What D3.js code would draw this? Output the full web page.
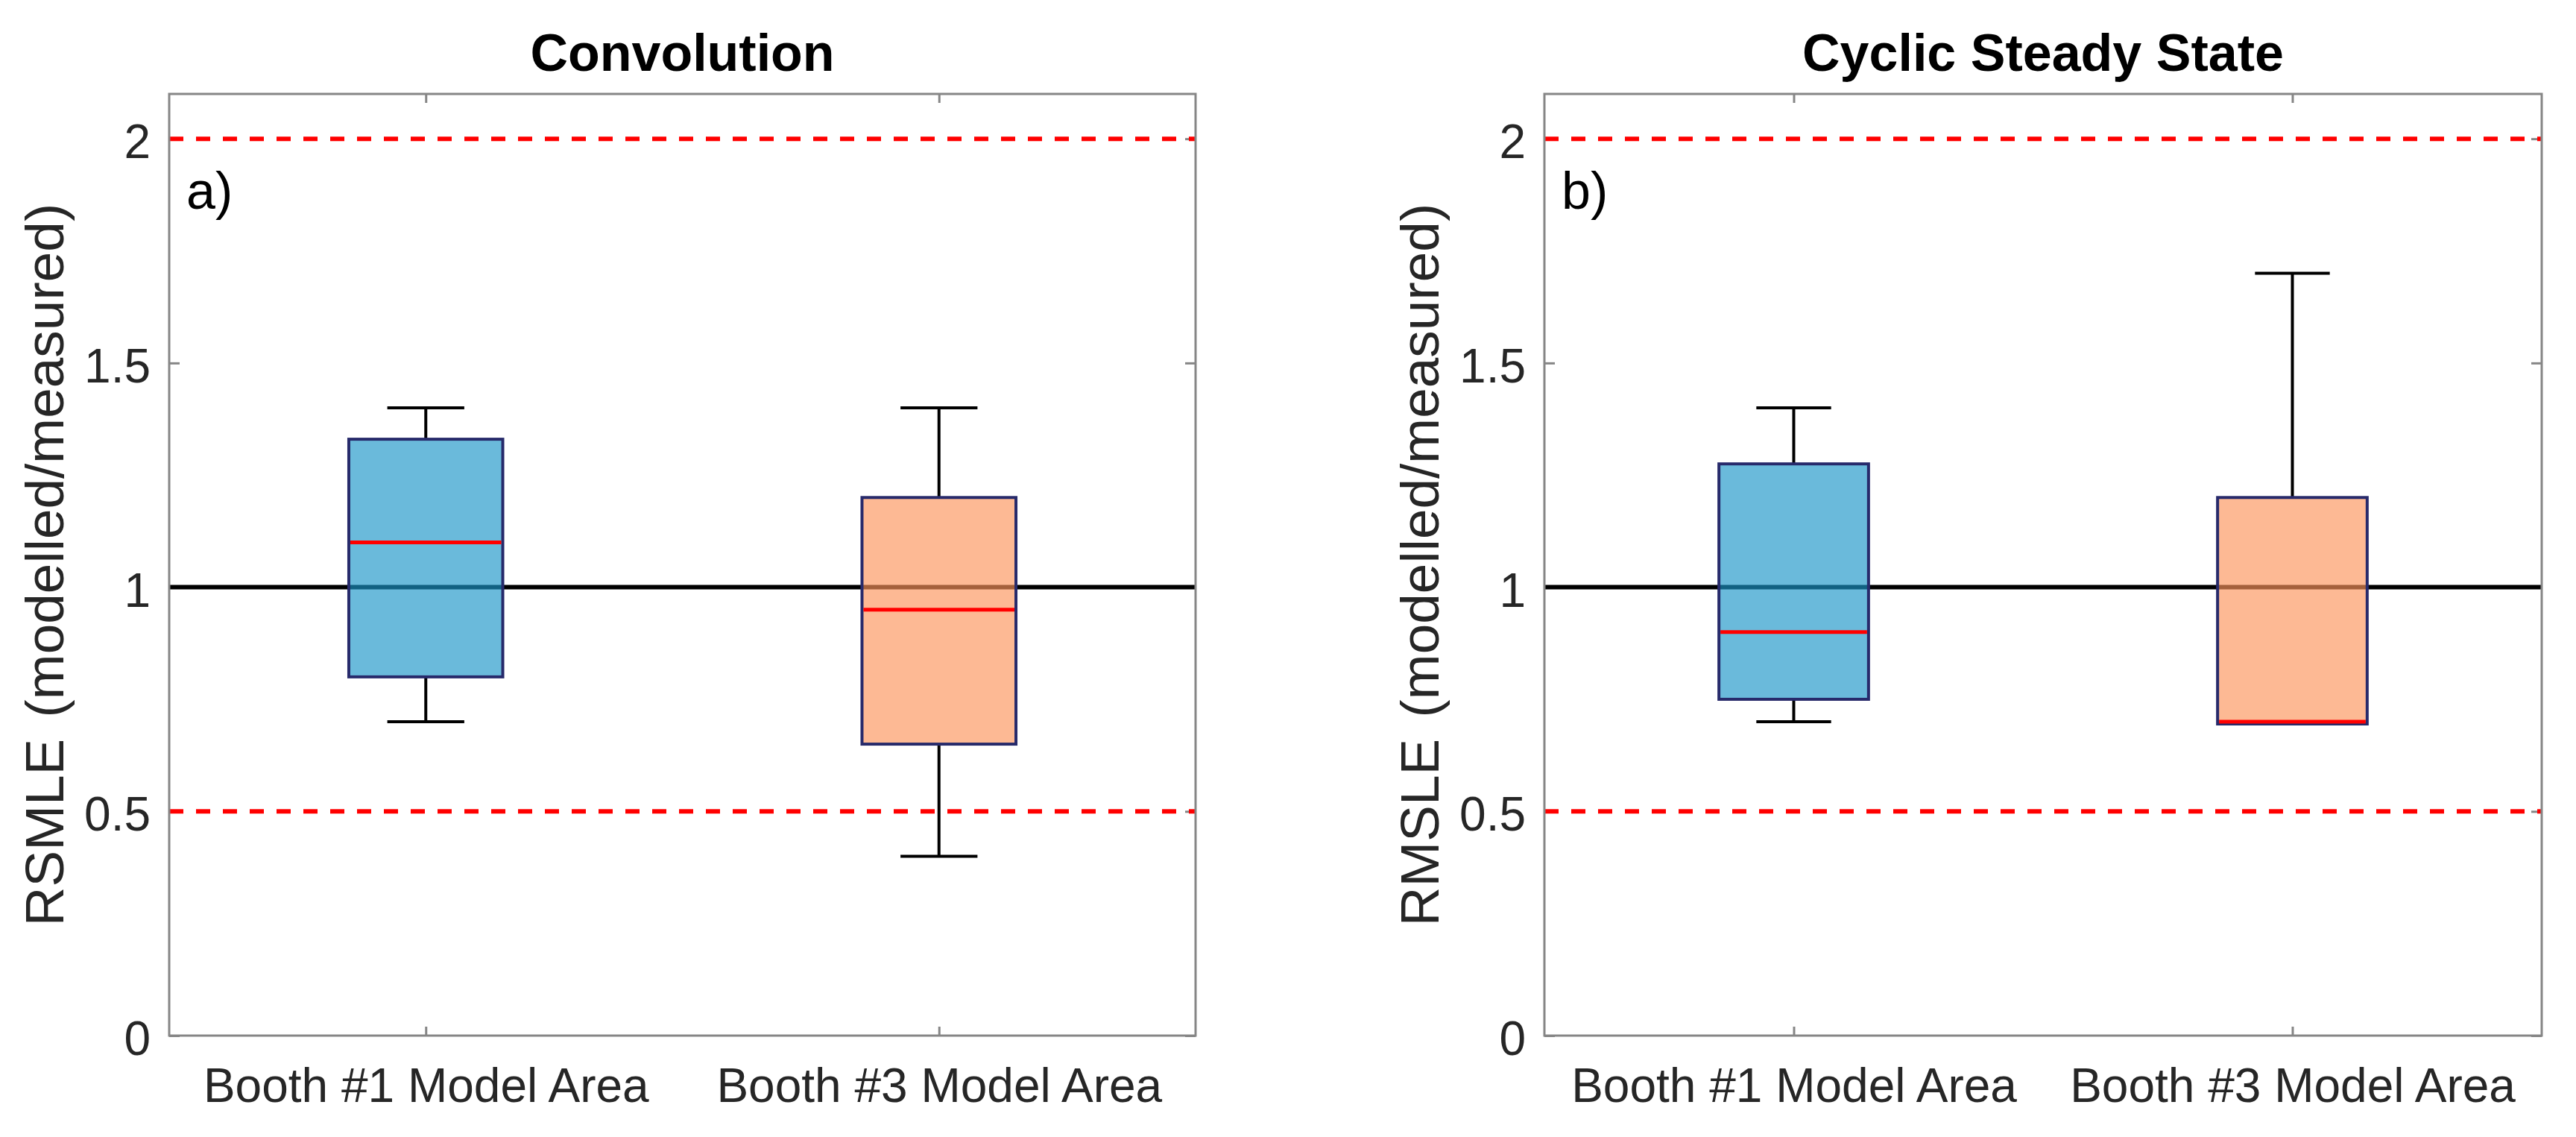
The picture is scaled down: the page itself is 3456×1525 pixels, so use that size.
<!DOCTYPE html>
<meta charset="utf-8">
<style>
  body { margin: 0; background: #fff; }
  text { font-family: "Liberation Sans", Arial, Helvetica, sans-serif; }
</style>
<script src="https://d3js.org/d3.v7.min.js"></script>

<div id="viz"></div>

<script>

// categories and labels
var groups = ["Booth #1 Model Area", "Booth #3 Model Area"];
var panelTitles = ["Convolution", "Cyclic Steady State"];
var yTitles = ["RSMLE (modelled/measured)", "RMSLE (modelled/measured)"];
var panelTags = ["a)", "b)"];
var yTicks = [0, 0.5, 1, 1.5, 2];

// box statistics (one value per group)
var convLow  = [0.7, 0.4];
var convQ1   = [0.8, 0.65];
var convMed  = [1.1, 0.95];
var convQ3   = [1.33, 1.2];
var convHigh = [1.4, 1.4];

var cssLow  = [0.7, 0.695];
var cssQ1   = [0.75, 0.695];
var cssMed  = [0.9, 0.7];
var cssQ3   = [1.275, 1.2];
var cssHigh = [1.4, 1.7];

// reference lines
var limitLines = [0.5, 2];
var refLine = 1;

var boxFill = ["#1a95c8", "#fc945b"];

var W = 3456, H = 1525;

var svg = d3.select("#viz")
  .append("svg")
    .attr("width", W)
    .attr("height", H);

svg.append("rect")
  .attr("width", W)
  .attr("height", H)
  .style("fill", "#fff");

var panelLeft = [227, 2072],
    panelWidth = [1377, 1338],
    marginTop = 126,
    height = 1389 - 126;

function stats(low, q1, med, q3, high) {
  return groups.map(function (g, i) {
    return {name: g, pos: i + 1, low: low[i], q1: q1[i], med: med[i], q3: q3[i], high: high[i], fill: boxFill[i]};
  });
}

var panelData = [
  stats(convLow, convQ1, convMed, convQ3, convHigh),
  stats(cssLow, cssQ1, cssMed, cssQ3, cssHigh)
];

panelData.forEach(function (data, p) {
  var width = panelWidth[p];
  var g = svg.append("g")
    .attr("transform", "translate(" + panelLeft[p] + "," + marginTop + ")");

  var x = d3.scaleLinear()
    .domain([0.5, 2.5])
    .range([0, width]);

  var y = d3.scaleLinear()
    .domain([0, 2.1])
    .range([height, 0]);

  // axes, ticks pointing inwards like matlab
  var yAxis = g.append("g")
    .call(d3.axisLeft(y).tickValues(yTicks).tickFormat(function (d) { return String(d); })
      .tickSizeInner(-14).tickSizeOuter(0).tickPadding(25));
  var yAxisR = g.append("g")
    .attr("transform", "translate(" + width + ",0)")
    .call(d3.axisRight(y).tickValues(yTicks).tickFormat("")
      .tickSizeInner(-14).tickSizeOuter(0));
  var xAxis = g.append("g")
    .attr("transform", "translate(0," + height + ")")
    .call(d3.axisBottom(x).tickValues([1, 2]).tickFormat(function (d) { return groups[d - 1]; })
      .tickSizeInner(-12).tickSizeOuter(0).tickPadding(44));
  var xAxisT = g.append("g")
    .call(d3.axisTop(x).tickValues([1, 2]).tickFormat("")
      .tickSizeInner(-12).tickSizeOuter(0));

  g.selectAll(".domain").remove();
  g.selectAll(".tick line")
    .attr("stroke", "#868686")
    .attr("stroke-width", 3);
  g.selectAll(".tick text")
    .attr("fill", "#262626")
    .style("font-size", "64px");
  yAxis.selectAll(".tick text").attr("dy", "0.4em");

  // limit lines
  g.selectAll(".limit")
    .data(limitLines)
    .enter()
    .append("line")
      .attr("x1", 0)
      .attr("x2", width)
      .attr("y1", function (d) { return y(d); })
      .attr("y2", function (d) { return y(d); })
      .attr("stroke", "#ff0000")
      .attr("stroke-width", 6)
      .attr("stroke-dasharray", "19,17");

  g.append("line")
    .attr("x1", 0)
    .attr("x2", width)
    .attr("y1", y(refLine))
    .attr("y2", y(refLine))
    .attr("stroke", "#000")
    .attr("stroke-width", 6);

  var boxW = 0.3, capW = 0.15;

  var box = g.selectAll(".box")
    .data(data)
    .enter()
    .append("g");

  // whiskers
  box.append("line")
    .attr("x1", function (d) { return x(d.pos); })
    .attr("x2", function (d) { return x(d.pos); })
    .attr("y1", function (d) { return y(d.q3); })
    .attr("y2", function (d) { return y(d.high); })
    .attr("stroke", "#000").attr("stroke-width", 4);
  box.append("line")
    .attr("x1", function (d) { return x(d.pos); })
    .attr("x2", function (d) { return x(d.pos); })
    .attr("y1", function (d) { return y(d.q1); })
    .attr("y2", function (d) { return y(d.low); })
    .attr("stroke", "#000").attr("stroke-width", 4);
  box.append("line")
    .attr("x1", function (d) { return x(d.pos - capW / 2); })
    .attr("x2", function (d) { return x(d.pos + capW / 2); })
    .attr("y1", function (d) { return y(d.high); })
    .attr("y2", function (d) { return y(d.high); })
    .attr("stroke", "#000").attr("stroke-width", 4);
  box.append("line")
    .attr("x1", function (d) { return x(d.pos - capW / 2); })
    .attr("x2", function (d) { return x(d.pos + capW / 2); })
    .attr("y1", function (d) { return y(d.low); })
    .attr("y2", function (d) { return y(d.low); })
    .attr("stroke", "#000").attr("stroke-width", 4);

  // boxes, semi transparent so the reference line shows through
  box.append("rect")
    .attr("x", function (d) { return x(d.pos - boxW / 2); })
    .attr("width", function (d) { return x(d.pos + boxW / 2) - x(d.pos - boxW / 2); })
    .attr("y", function (d) { return y(d.q3); })
    .attr("height", function (d) { return y(d.q1) - y(d.q3); })
    .attr("fill", function (d) { return d.fill; })
    .attr("fill-opacity", 0.65);
  box.append("rect")
    .attr("x", function (d) { return x(d.pos - boxW / 2); })
    .attr("width", function (d) { return x(d.pos + boxW / 2) - x(d.pos - boxW / 2); })
    .attr("y", function (d) { return y(d.q3); })
    .attr("height", function (d) { return y(d.q1) - y(d.q3); })
    .attr("fill", "none")
    .attr("stroke", "#272a6b")
    .attr("stroke-width", 4);

  // medians
  box.append("line")
    .attr("x1", function (d) { return x(d.pos - boxW / 2) + 2; })
    .attr("x2", function (d) { return x(d.pos + boxW / 2) - 2; })
    .attr("y1", function (d) { return y(d.med); })
    .attr("y2", function (d) { return y(d.med); })
    .attr("stroke", "#ff0000")
    .attr("stroke-width", 5);

  // frame
  g.append("rect")
    .attr("width", width)
    .attr("height", height)
    .attr("fill", "none")
    .attr("stroke", "#868686")
    .attr("stroke-width", 3);

  g.append("text")
    .attr("x", 23)
    .attr("y", 154)
    .style("font-size", "70px")
    .attr("fill", "#000")
    .text(panelTags[p]);

  g.append("text")
    .attr("x", width / 2)
    .attr("y", -31)
    .attr("text-anchor", "middle")
    .style("font-size", "70px")
    .style("font-weight", "bold")
    .attr("fill", "#000")
    .text(panelTitles[p]);

  g.append("text")
    .attr("transform", "translate(-142," + (height / 2) + ") rotate(-90)")
    .attr("text-anchor", "middle")
    .style("font-size", "73px")
    .style("word-spacing", "8px")
    .attr("fill", "#262626")
    .text(yTitles[p]);
});

</script>
